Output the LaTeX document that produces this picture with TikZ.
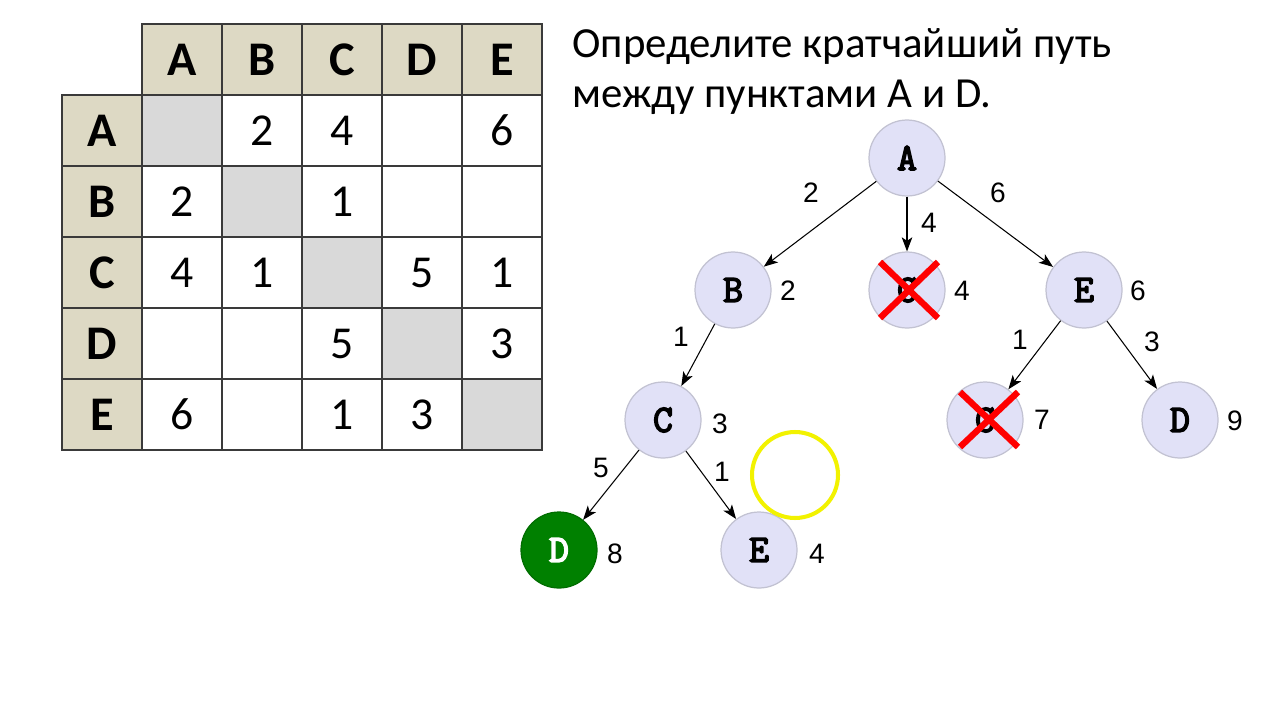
\documentclass[tikz,border=0pt]{standalone}
\usepackage{fontspec}
\setmainfont{Carlito}
\newfontfamily\labf{Liberation Sans}
\newfontfamily\monob[FakeBold=4]{Latin Modern Mono}
\usetikzlibrary{arrows.meta}
\definecolor{hdr}{HTML}{DDD9C4}
\definecolor{diag}{HTML}{D9D9D9}
\definecolor{gridc}{HTML}{3A3A3A}
\definecolor{nodefill}{HTML}{E1E1F7}
\definecolor{nodeedge}{HTML}{C2C2D2}
\definecolor{goalc}{HTML}{008000}
\definecolor{crossred}{HTML}{FF0000}
\definecolor{hilite}{HTML}{F2F200}
\begin{document}
\begin{tikzpicture}[x=0.02cm,y=-0.02cm,
 cell/.style={draw=gridc,line width=0.9pt,minimum width=1.6cm,minimum height=1.42cm,inner sep=0pt,font=\fontsize{26}{26}\selectfont},
 hcell/.style={cell,fill=hdr,font=\fontsize{27.5}{27.5}\selectfont\bfseries},
 dcell/.style={cell,fill=diag},
 vtx/.style={circle,fill=nodefill,draw=nodeedge,line width=0.7pt,minimum size=1.52cm,inner sep=0pt,font=\monob\fontsize{22}{22}\selectfont},
 goalvtx/.style={vtx,fill=goalc,draw=goalc!85!black,text=white},
 cost/.style={font=\labf\fontsize{16}{16}\selectfont,inner sep=0pt},
 edge/.style={-{Stealth[length=8pt,width=6pt,inset=2pt]},line width=0.6pt},
 cross/.style={draw=crossred,line width=3.6pt},
 title/.style={anchor=base west,inner sep=0pt,font=\fontsize{24.4}{24.4}\selectfont},
]
\fill[white] (0,0) rectangle (1280,720);
\useasboundingbox (0,0) rectangle (1280,720);

% ---------- table ----------
\foreach \h [count=\j] in {A,B,C,D,E}{
  \node[hcell] (col\h) at ({102+80*\j},59.5) {\h};
  \node[hcell] (row\h) at (102,{59.5+71*\j}) {\h};
}
\foreach \rowvals [count=\i] in {{,2,4,,6},{2,,1,,},{4,1,,5,1},{,,5,,3},{6,,1,3,}}{
  \foreach \v [count=\j] in \rowvals {
    \ifnum\i=\j
      \node[dcell] (c\i\j) at ({102+80*\j},{59.5+71*\i}) {};
    \else
      \node[cell] (c\i\j) at ({102+80*\j},{59.5+71*\i}) {\v};
    \fi
  }
}

% ---------- title ----------
\node[title] (t1) at (572,57) {Определите кратчайший путь};
\node[title] (t2) at (572,107) {между пунктами A и D.};

% ---------- tree ----------
\node[vtx] (A) at (907,158) {A};
\node[vtx] (B) at (733,290) {B};
\node[vtx] (C1) at (907,290) {C};
\node[vtx] (E1) at (1084,290) {E};
\node[vtx] (C2) at (663,420) {C};
\node[vtx] (C3) at (985,420) {C};
\node[vtx] (D1) at (1180,420) {D};
\node[goalvtx] (D2) at (559,550) {D};
\node[vtx] (E2) at (759,550) {E};

\draw[edge] (A) -- (B);
\draw[edge] (A) -- (C1);
\draw[edge] (A) -- (E1);
\draw[edge] (B) -- (C2);
\draw[edge] (E1) -- (C3);
\draw[edge] (E1) -- (D1);
\draw[edge] (C2) -- (D2);
\draw[edge] (C2) -- (E2);

% edge weights
\node[cost] (w1) at (811,193) {2};
\node[cost] (w2) at (929,223) {4};
\node[cost] (w3) at (998,193) {6};
\node[cost] (w4) at (681,337) {1};
\node[cost] (w5) at (1020,340) {1};
\node[cost] (w6) at (1152,342) {3};
\node[cost] (w7) at (601,468) {5};
\node[cost] (w8) at (722,472) {1};

% path costs
\node[cost] (k1) at (788,291) {2};
\node[cost] (k2) at (962,291) {4};
\node[cost] (k3) at (1138,291) {6};
\node[cost] (k4) at (720,424) {3};
\node[cost] (k5) at (1042,420) {7};
\node[cost] (k6) at (1235,421) {9};
\node[cost] (k7) at (615,554) {8};
\node[cost] (k8) at (817,554) {4};

% crosses
\draw[cross] ([shift={(-27,-28)}]C1.center) -- ([shift={(31,28)}]C1.center);
\draw[cross] ([shift={(31,-28)}]C1.center) -- ([shift={(-27,28)}]C1.center);
\draw[cross] ([shift={(-25,-28)}]C3.center) -- ([shift={(33,27)}]C3.center);
\draw[cross] ([shift={(33,-28)}]C3.center) -- ([shift={(-25,27)}]C3.center);

% yellow highlight
\coordinate (hl) at (795,475);
\draw[hilite,line width=2.3pt] (hl) circle[radius=0.86cm];
\end{tikzpicture}
\end{document}
